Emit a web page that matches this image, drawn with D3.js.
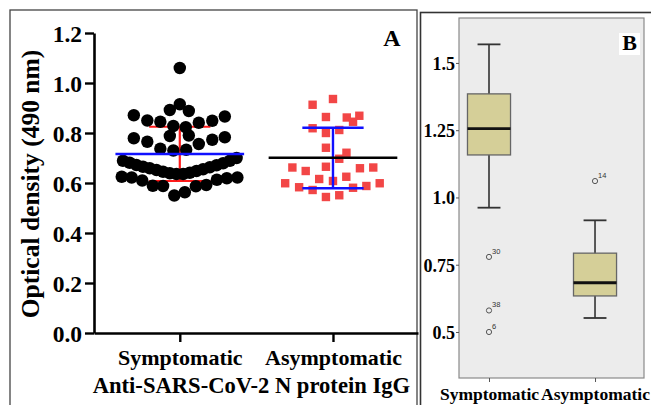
<!DOCTYPE html>
<html><head><meta charset="utf-8">
<script src="https://cdn.jsdelivr.net/npm/d3@7"></script>
<style>
html,body{margin:0;padding:0;background:#fff;}
svg{display:block;}
text{font-family:"Liberation Serif","Times New Roman",serif;font-weight:bold;}
</style></head>
<body><svg id="c" width="651" height="405"></svg>
<script>
// ---------- data ----------
const categories = ["Symptomatic", "Asymptomatic"];
const axisTitleA = "Optical density (490 nm)";
const groupTitleA = "Anti-SARS-CoV-2 N protein IgG";
const yTicksA = [0, 0.2, 0.4, 0.6, 0.8, 1.0, 1.2];

// Symptomatic OD values and horizontal scatter offsets (category units)
const symValues = [
  1.06, 0.915, 0.892, 0.888, 0.871, 0.866, 0.85, 0.845, 0.849, 0.841, 0.828, 0.823,
  0.779, 0.765, 0.788, 0.79, 0.773, 0.783, 0.756, 0.737, 0.73, 0.733,
  0.689, 0.681, 0.672, 0.665, 0.659, 0.652, 0.645, 0.639, 0.636, 0.636, 0.641, 0.648, 0.655, 0.663, 0.671, 0.679, 0.689, 0.70,
  0.625, 0.622, 0.61, 0.589, 0.588, 0.55, 0.563, 0.587, 0.592, 0.613, 0.619, 0.622
];
const symJitter = [
  0, 0, -0.065, 0.059, -0.30, 0.294, -0.212, -0.127, 0.212, 0.124, -0.042, 0.039,
  -0.30, -0.212, -0.065, 0.059, 0.212, 0.294, 0.124, -0.127, -0.042, 0.042,
  -0.371, -0.327, -0.283, -0.240, -0.196, -0.152, -0.109, -0.065, -0.022, 0.022, 0.065, 0.109, 0.152, 0.196, 0.240, 0.283, 0.327, 0.371,
  -0.379, -0.314, -0.245, -0.176, -0.109, -0.036, 0.033, 0.105, 0.173, 0.242, 0.307, 0.376
];
// Asymptomatic OD values and offsets
const asymValues = [
  0.913, 0.936, 0.864, 0.862, 0.869, 0.845, 0.819, 0.80, 0.812, 0.741, 0.721, 0.697,
  0.662, 0.648, 0.665, 0.659, 0.662, 0.616, 0.625, 0.608,
  0.599, 0.583, 0.572, 0.581, 0.588, 0.599, 0.544, 0.551
];
const asymJitter = [
  -0.133, 0, -0.046, 0.09, 0.172, 0.131, -0.133, -0.046, 0.041, -0.046, 0.088, 0.041,
  -0.265, -0.178, -0.046, 0.176, 0.263, -0.09, 0.087, 0,
  -0.312, -0.221, -0.133, 0.131, 0.218, 0.305, -0.046, 0.041
];
const meanValues = [0.716, 0.701];
const sdLow = [0.608, 0.579];
const sdHigh = [0.825, 0.821];

// Panel B box plot summary
const yTicksB = [0.5, 0.75, 1.0, 1.25, 1.5];
const yTickLabelsB = ["0.5", "0.75", "1.0", "1.25", "1.5"];
const whiskerLow = [0.962, 0.552];
const boxQ1 = [1.158, 0.634];
const boxMedian = [1.256, 0.683];
const boxQ3 = [1.385, 0.793];
const whiskerHigh = [1.569, 0.915];
const outlierCat = [0, 0, 0, 1];
const outlierValues = [0.779, 0.58, 0.5, 1.061];
const outlierIds = ["30", "38", "6", "14"];

// ---------- drawing ----------
const svg = d3.select("#c");

// Panel A frame
svg.append("rect").attr("x", 10).attr("y", 10).attr("width", 407).attr("height", 420)
  .attr("fill", "none").attr("stroke", "#444").attr("stroke-width", 1.3);

const xA = d3.scaleLinear().domain([0.44, 2.555]).range([94, 418]);
const yA = d3.scaleLinear().domain([0, 1.2]).range([333, 33]);

const gA = svg.append("g");

// y axis
const yAxA = gA.append("g").attr("transform", `translate(${xA(0.44)},0)`)
  .call(d3.axisLeft(yA).tickValues(yTicksA).tickFormat(d3.format(".1f")).tickSize(9).tickPadding(3).tickSizeOuter(0));
yAxA.select(".domain").attr("stroke", "#000").attr("stroke-width", 2.6);
yAxA.selectAll(".tick line").attr("stroke", "#000").attr("stroke-width", 2.4);
yAxA.selectAll(".tick text").attr("fill", "#000").style("font-size", "23.5px")
  .style("font-family", "'Liberation Serif',serif").style("font-weight", "bold").attr("dy", "0.34em");

// x axis
const xAxA = gA.append("g").attr("transform", `translate(0,${yA(0)})`)
  .call(d3.axisBottom(xA).tickValues([1, 2]).tickFormat(d => categories[d - 1]).tickSize(9).tickPadding(7).tickSizeOuter(0));
xAxA.select(".domain").attr("stroke", "#000").attr("stroke-width", 2.6);
xAxA.selectAll(".tick line").attr("stroke", "#000").attr("stroke-width", 2.4);
xAxA.selectAll(".tick text").attr("fill", "#000").style("font-size", "22px")
  .style("font-family", "'Liberation Serif',serif").style("font-weight", "bold");

gA.append("text").attr("x", (xA(1) + xA(2)) / 2 - 5).attr("y", 393).attr("text-anchor", "middle")
  .style("font-size", "22.6px").text(groupTitleA);

gA.append("text").attr("transform", `translate(39,${yA(0.6) + 1}) rotate(-90)`).attr("text-anchor", "middle")
  .style("font-size", "25.5px").text(axisTitleA);

gA.append("text").attr("x", 392).attr("y", 46).attr("text-anchor", "middle").style("font-size", "24px").text("A");

// Symptomatic: red SD bars behind dots
const capSym = 0.2, meanHalf = 0.42;
const redG = gA.append("g").attr("stroke", "#ff1a1a").attr("stroke-width", 2.2);
redG.append("line").attr("x1", xA(1)).attr("x2", xA(1)).attr("y1", yA(sdLow[0])).attr("y2", yA(sdHigh[0]));
redG.append("line").attr("x1", xA(1 - capSym)).attr("x2", xA(1 + capSym)).attr("y1", yA(sdHigh[0])).attr("y2", yA(sdHigh[0]));
redG.append("line").attr("x1", xA(1 - capSym)).attr("x2", xA(1 + capSym)).attr("y1", yA(sdLow[0])).attr("y2", yA(sdLow[0]));

gA.append("g").selectAll("circle").data(symValues).join("circle")
  .attr("cx", (d, i) => xA(1 + symJitter[i])).attr("cy", d => yA(d)).attr("r", 6.2).attr("fill", "#000");

gA.append("line").attr("x1", xA(1 - meanHalf)).attr("x2", xA(1 + meanHalf))
  .attr("y1", yA(meanValues[0])).attr("y2", yA(meanValues[0])).attr("stroke", "#1010ff").attr("stroke-width", 2.4);

// Asymptomatic squares
const sq = 8.4;
gA.append("g").selectAll("rect").data(asymValues).join("rect")
  .attr("x", (d, i) => xA(2 + asymJitter[i]) - sq / 2).attr("y", d => yA(d) - sq / 2)
  .attr("width", sq).attr("height", sq).attr("fill", "#f24646");

const blueG = gA.append("g").attr("stroke", "#1010ff").attr("stroke-width", 2.4);
blueG.append("line").attr("x1", xA(2)).attr("x2", xA(2)).attr("y1", yA(sdLow[1])).attr("y2", yA(sdHigh[1]));
blueG.append("line").attr("x1", xA(2 - capSym)).attr("x2", xA(2 + capSym)).attr("y1", yA(sdHigh[1])).attr("y2", yA(sdHigh[1]));
blueG.append("line").attr("x1", xA(2 - capSym)).attr("x2", xA(2 + capSym)).attr("y1", yA(sdLow[1])).attr("y2", yA(sdLow[1]));
gA.append("line").attr("x1", xA(2 - meanHalf)).attr("x2", xA(2 + meanHalf))
  .attr("y1", yA(meanValues[1])).attr("y2", yA(meanValues[1])).attr("stroke", "#000").attr("stroke-width", 2.6);

// ---------- Panel B ----------
svg.append("rect").attr("x", 420.5).attr("y", 12.5).attr("width", 240).attr("height", 420)
  .attr("fill", "none").attr("stroke", "#333").attr("stroke-width", 1.6);

const xB = d3.scaleLinear().domain([0.717, 2.462]).range([459, 644]);
const yB = d3.scaleLinear().domain([0.329, 1.667]).range([378, 18]);

svg.append("rect").attr("x", 459).attr("y", 18).attr("width", 185).attr("height", 360)
  .attr("fill", "#ececec").attr("stroke", "#8a8a8a").attr("stroke-width", 1.2);

const gB = svg.append("g");
const yAxB = gB.append("g").attr("transform", "translate(459,0)")
  .call(d3.axisLeft(yB).tickValues(yTicksB).tickFormat((d, i) => yTickLabelsB[i]).tickSize(3).tickPadding(1).tickSizeOuter(0));
yAxB.select(".domain").remove();
yAxB.selectAll(".tick line").attr("stroke", "#555");
yAxB.selectAll(".tick text").attr("fill", "#000").style("font-size", "18px")
  .style("font-family", "'Liberation Serif',serif").style("font-weight", "bold").attr("dy", "0.36em");

const xAxB = gB.append("g").attr("transform", "translate(0,378)")
  .call(d3.axisBottom(xB).tickValues([1, 2]).tickFormat(d => categories[d - 1]).tickSize(4).tickPadding(6).tickSizeOuter(0));
xAxB.select(".domain").remove();
xAxB.selectAll(".tick line").attr("stroke", "#555");
xAxB.selectAll(".tick text").attr("fill", "#000").style("font-size", "17.5px")
  .style("font-family", "'Liberation Serif',serif").style("font-weight", "bold");

const boxHalf = 0.203, capHalf = 0.108;
categories.forEach((c, i) => {
  const cx = i + 1;
  const g = gB.append("g");
  g.append("line").attr("x1", xB(cx)).attr("x2", xB(cx)).attr("y1", yB(whiskerHigh[i])).attr("y2", yB(whiskerLow[i]))
    .attr("stroke", "#333").attr("stroke-width", 1.6);
  g.append("line").attr("x1", xB(cx - capHalf)).attr("x2", xB(cx + capHalf)).attr("y1", yB(whiskerHigh[i])).attr("y2", yB(whiskerHigh[i]))
    .attr("stroke", "#333").attr("stroke-width", 1.8);
  g.append("line").attr("x1", xB(cx - capHalf)).attr("x2", xB(cx + capHalf)).attr("y1", yB(whiskerLow[i])).attr("y2", yB(whiskerLow[i]))
    .attr("stroke", "#333").attr("stroke-width", 1.8);
  g.append("rect").attr("x", xB(cx - boxHalf)).attr("y", yB(boxQ3[i]))
    .attr("width", xB(cx + boxHalf) - xB(cx - boxHalf)).attr("height", yB(boxQ1[i]) - yB(boxQ3[i]))
    .attr("fill", "#d5cf98").attr("stroke", "#666").attr("stroke-width", 1.3);
  g.append("line").attr("x1", xB(cx - boxHalf)).attr("x2", xB(cx + boxHalf)).attr("y1", yB(boxMedian[i])).attr("y2", yB(boxMedian[i]))
    .attr("stroke", "#111").attr("stroke-width", 2.8);
});

outlierValues.forEach((v, i) => {
  const cx = xB(outlierCat[i] + 1), cy = yB(v);
  gB.append("circle").attr("cx", cx).attr("cy", cy).attr("r", 2.6)
    .attr("fill", "none").attr("stroke", "#555").attr("stroke-width", 1);
  gB.append("text").attr("x", cx + 3).attr("y", cy - 3)
    .style("font-family", "'Liberation Sans',Arial,sans-serif").style("font-weight", "normal")
    .style("font-size", "7.5px").attr("fill", "#333").text(outlierIds[i]);
});

gB.append("rect").attr("x", 619).attr("y", 33).attr("width", 21).attr("height", 22).attr("fill", "#fff");
gB.append("text").attr("x", 629.5).attr("y", 50).attr("text-anchor", "middle").style("font-size", "22px").text("B");
</script></body></html>
